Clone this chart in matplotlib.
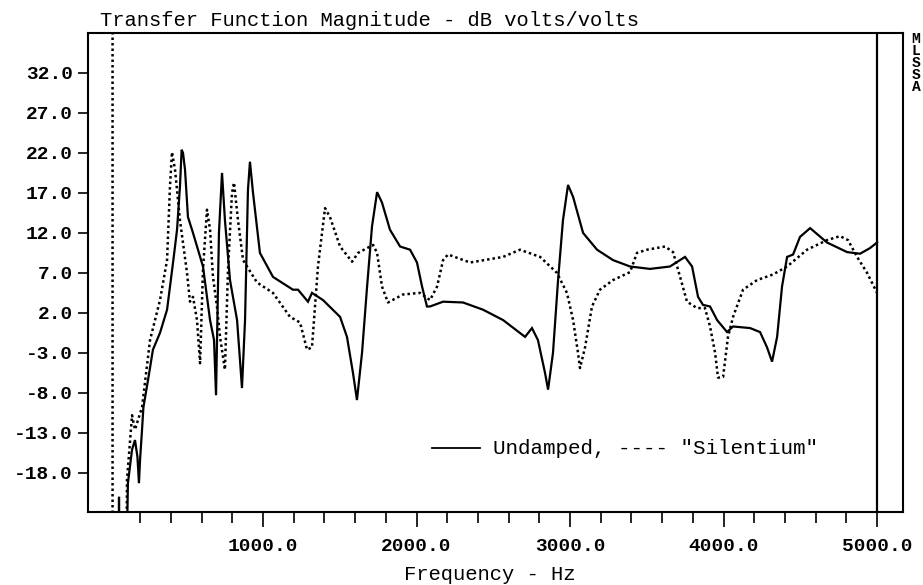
import matplotlib
matplotlib.use("Agg")
import matplotlib.pyplot as plt
from matplotlib.ticker import FixedLocator, FuncFormatter

# Undamped plate (solid)
undamped_hz = [40, 60, 62, 64, 110, 120, 147, 166, 182, 192, 199, 212, 221, 251, 283, 329,
               375, 416, 440, 459, 470, 479, 492, 511, 544, 609, 655, 681, 694, 713, 733,
               752, 785, 831, 850, 863, 883, 902, 915, 935, 980, 1065, 1195, 1228, 1293,
               1319, 1391, 1502, 1547, 1586, 1612, 1645, 1678, 1710, 1743, 1775, 1827,
               1893, 1958, 2003, 2036, 2068, 2088, 2173, 2303, 2433, 2564, 2707, 2752,
               2791, 2837, 2857, 2889, 2922, 2954, 2987, 3020, 3085, 3176, 3280, 3391,
               3521, 3651, 3749, 3795, 3834, 3866, 3912, 3958, 4023, 4062, 4173, 4238,
               4283, 4316, 4349, 4381, 4414, 4453, 4498, 4564, 4674, 4805, 4889, 4954, 5000]
undamped_db = [-30, -30, -21, -30, -30, -19.3, -15.1, -13.9, -16, -19.3, -16.4, -12.6, -9.8,
               -6.4, -2.6, -0.5, 2.4, 8.6, 12.4, 17.8, 22.4, 22, 19.9, 14, 12, 7.8, 1.1,
               -1.4, -8.3, 12, 19.5, 13.6, 6.1, 1.1, -3.9, -7.4, 1.1, 17.4, 20.9, 17, 9.5,
               6.5, 4.9, 4.9, 3.4, 4.5, 3.6, 1.5, -1, -5.5, -8.9, -3, 5.3, 12.8, 17.1,
               15.8, 12.4, 10.3, 9.9, 8.3, 5.3, 2.8, 2.8, 3.4, 3.3, 2.4, 1.1, -1, 0.1,
               -1.4, -5.5, -7.6, -3, 6.1, 13.6, 18, 16.5, 12, 9.9, 8.6, 7.8, 7.5, 7.8, 9,
               7.8, 4, 3, 2.8, 1.1, -0.4, 0.3, 0.1, -0.4, -2.3, -4.1, -1, 5.3, 9, 9.3,
               11.5, 12.6, 10.8, 9.6, 9.4, 10.1, 10.8]

# "Silentium" damped plate (dotted)
silent_hz = [20, 20, 110, 114, 147, 166, 212, 264, 329, 375, 394, 407, 427, 459, 505, 524,
             544, 570, 590, 609, 635, 655, 674, 700, 720, 752, 772, 798, 811, 837, 870,
             896, 961, 1065, 1176, 1241, 1287, 1319, 1358, 1404, 1436, 1502, 1580, 1619,
             1717, 1743, 1775, 1814, 1912, 2023, 2088, 2134, 2173, 2205, 2349, 2564,
             2674, 2805, 2915, 2980, 3020, 3052, 3065, 3098, 3143, 3195, 3280, 3391,
             3436, 3502, 3619, 3671, 3717, 3762, 3827, 3879, 3912, 3945, 3964, 3997,
             4029, 4062, 4127, 4218, 4322, 4414, 4544, 4674, 4759, 4811, 4870, 4935, 5000]
silent_db = [45, -30, -30, -18.9, -10.8, -12.6, -9.8, -1.4, 3.6, 8.6, 17.8, 22.1, 19.9,
             13.6, 7, 3.4, 4, 1.1, -4.3, 7.4, 14.9, 12.4, 6.5, 2.8, -1, -5.1, 7.4, 17,
             18.3, 13.6, 8.6, 7.8, 5.8, 4.5, 1.5, 0.8, -2.6, -2.3, 7.8, 15.1, 14, 10.3,
             8.4, 9.5, 10.5, 9.5, 5.3, 3.3, 4.3, 4.5, 3.6, 5.3, 8.6, 9.3, 8.3, 9, 9.9, 9,
             7, 4.5, 1.1, -3, -4.9, -2.3, 2.8, 4.9, 6.1, 7.1, 9.5, 9.9, 10.3, 9.6, 6.5,
             3.4, 2.6, 2.6, 0.3, -3, -6.1, -6, -1, 1.5, 4.9, 6.1, 6.8, 7.8, 9.9, 11.1,
             11.6, 11.1, 9, 7, 4.5]

y_ticks = [-18, -13, -8, -3, 2, 7, 12, 17, 22, 27, 32]
x_major = [1000, 2000, 3000, 4000, 5000]
x_minor = [f for f in range(200, 5000, 200) if f % 1000]
cursor_hz = 5000

mono = "Liberation Mono"

fig = plt.figure(figsize=(9.23, 5.85), dpi=100)
ax = fig.add_axes([88 / 923, 1 - 512 / 585, 815 / 923, 479 / 585])

ax.plot(undamped_hz, undamped_db, color="black", lw=1.6, solid_joinstyle="miter")
ax.plot(silent_hz, silent_db, color="black", lw=1.8, linestyle=(0, (1, 1.2)))
ax.axvline(cursor_hz, color="black", lw=1.6)

ax.set_xlim(-140, 5169)
ax.set_ylim(-22.9, 37)

ax.xaxis.set_major_locator(FixedLocator(x_major))
ax.xaxis.set_minor_locator(FixedLocator(x_minor))
ax.yaxis.set_major_locator(FixedLocator(y_ticks))
ax.xaxis.set_major_formatter(FuncFormatter(lambda v, p: "%.1f" % v))
ax.yaxis.set_major_formatter(FuncFormatter(lambda v, p: "%.1f" % v))
ax.tick_params(axis="x", which="major", direction="out", length=11, width=1.2, pad=8)
ax.tick_params(axis="x", which="minor", direction="out", length=8, width=1.2)
ax.tick_params(axis="y", which="major", direction="out", length=7, width=1.2, pad=4)
for lab in ax.get_xticklabels() + ax.get_yticklabels():
    lab.set_fontfamily(mono)
    lab.set_fontweight("bold")
    lab.set_fontsize(14)
for sp in ax.spines.values():
    sp.set_linewidth(1.5)

fig.text(100 / 923, 1 - 21 / 585, "Transfer Function Magnitude - dB volts/volts",
         family=mono, fontsize=14.8, ha="left", va="center")
fig.text(490 / 923, 1 - 574 / 585, "Frequency - Hz", family=mono, fontsize=14.8,
         ha="center", va="center")
fig.text(916 / 923, 1 - 63 / 585, "M\nL\nS\nS\nA", family=mono, fontsize=10.5,
         fontweight="bold", ha="center", va="center", linespacing=0.8)

# legend drawn as in the original plot
ax.plot([0.422, 0.481], [0.1336, 0.1336], color="black", lw=1.3, transform=ax.transAxes)
ax.text(0.497, 0.1336, 'Undamped, ---- "Silentium"', family=mono, fontsize=15,
        ha="left", va="center", transform=ax.transAxes)

fig.savefig("out.png", dpi=100)
